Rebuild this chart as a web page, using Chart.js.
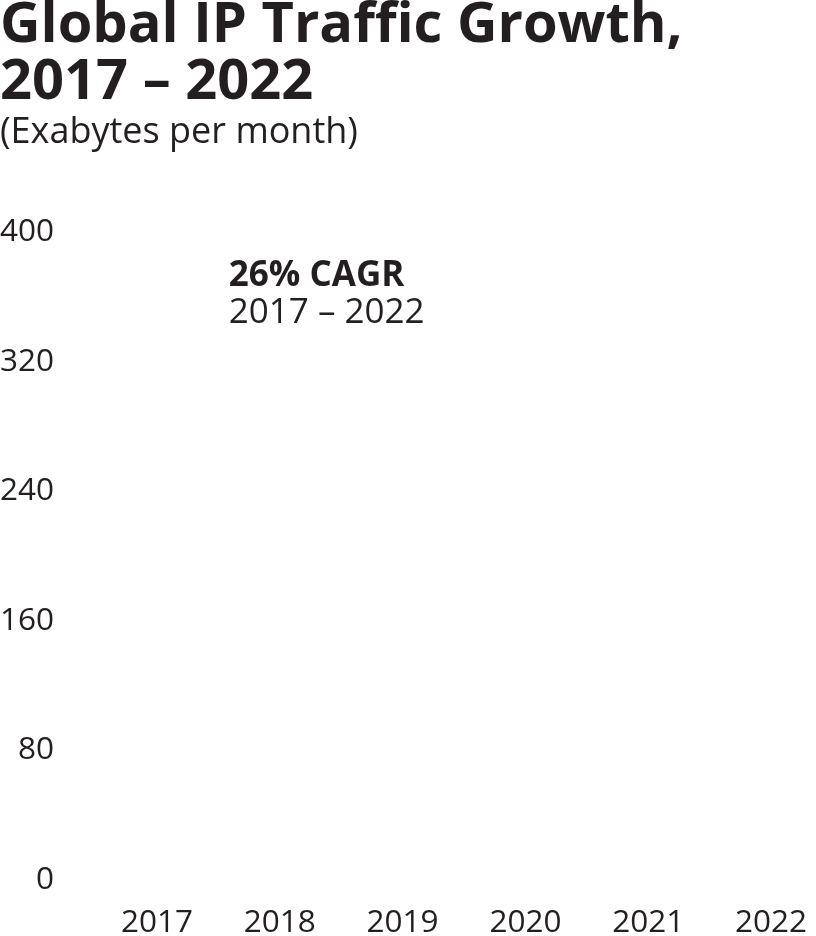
<!DOCTYPE html>
<html>
<head>
<meta charset="utf-8">
<script src="https://cdn.jsdelivr.net/npm/chart.js@4.4.1/dist/chart.umd.min.js"></script>
<style>
  body { margin: 0; background: #fff; }
  #wrap { position: relative; width: 816px; height: 936px; overflow: hidden; }
  #chart { position: absolute; left: 0; top: 0; }
  .title { position: absolute; left: 0; top: -8px; font: 700 56px/57px "Open Sans"; color: #231f20; white-space: nowrap; }
  .sub { position: absolute; left: 0; top: 108px; font: 400 36px/44px "Open Sans"; color: #231f20; white-space: nowrap; }
</style>
</head>
<body>
<div id="wrap">
  <canvas id="chart" width="816" height="936"></canvas>
  <div class="title">Global IP Traffic Growth,<br>2017 – 2022</div>
  <div class="sub">(Exabytes per month)</div>
</div>
<script>
const years = ["2017", "2018", "2019", "2020", "2021", "2022"];
// exabytes per month (bars are drawn white in the source)
const traffic = [122, 156, 201, 254, 319, 396];
const yTicks = [0, 80, 160, 240, 320, 400];
const noteLines = ["26% CAGR", "2017 – 2022"];

const ink = "#231f20";

// annotation near the top of the plot
const notePlugin = {
    id: "note",
    afterDraw(chart) {
        const ctx = chart.ctx;
        const x = chart.scales.x.getPixelForValue(1) - 51;
        const y = chart.scales.y;
        ctx.save();
        ctx.fillStyle = ink;
        ctx.textAlign = "left";
        ctx.textBaseline = "middle";
        ctx.font = "700 35px 'Open Sans'";
        ctx.fillText(noteLines[0], x, y.getPixelForValue(372.8));
        ctx.font = "400 35px 'Open Sans'";
        ctx.fillText(noteLines[1], x, y.getPixelForValue(350));
        ctx.restore();
    }
};

const ctx = document.getElementById("chart").getContext("2d");

new Chart(ctx, {
    type: "bar",
    data: {
        labels: years,
        datasets: [{
            label: "IP traffic",
            data: traffic,
            backgroundColor: "#ffffff",
            borderWidth: 0
        }]
    },
    options: {
        responsive: false,
        animation: false,
        layout: {
            padding: { top: 232, right: 45, bottom: 0, left: 0 }
        },
        plugins: {
            legend: { display: false },
            tooltip: { enabled: false }
        },
        scales: {
            x: {
                offset: false,
                grid: { display: false, drawTicks: false },
                border: { display: false },
                ticks: {
                    color: ink,
                    padding: 24,
                    maxRotation: 0,
                    autoSkip: false,
                    font: { family: "Open Sans", size: 31.5 }
                },
                afterFit(scale) {
                    scale.height = 56;
                    // label overhang is allowed past the plot edges
                    scale.paddingLeft = 0;
                    scale.paddingRight = 0;
                }
            },
            y: {
                min: 0,
                max: 400,
                afterBuildTicks(scale) {
                    scale.ticks = yTicks.map(v => ({ value: v }));
                },
                grid: { display: false, drawTicks: false },
                border: { display: false },
                ticks: {
                    color: ink,
                    padding: 103,
                    font: { family: "Open Sans", size: 31.5 }
                },
                afterFit(scale) {
                    scale.width = 157;
                    scale.paddingTop = 0;
                    scale.paddingBottom = 0;
                }
            }
        }
    },
    plugins: [notePlugin]
});
</script>
</body>
</html>
